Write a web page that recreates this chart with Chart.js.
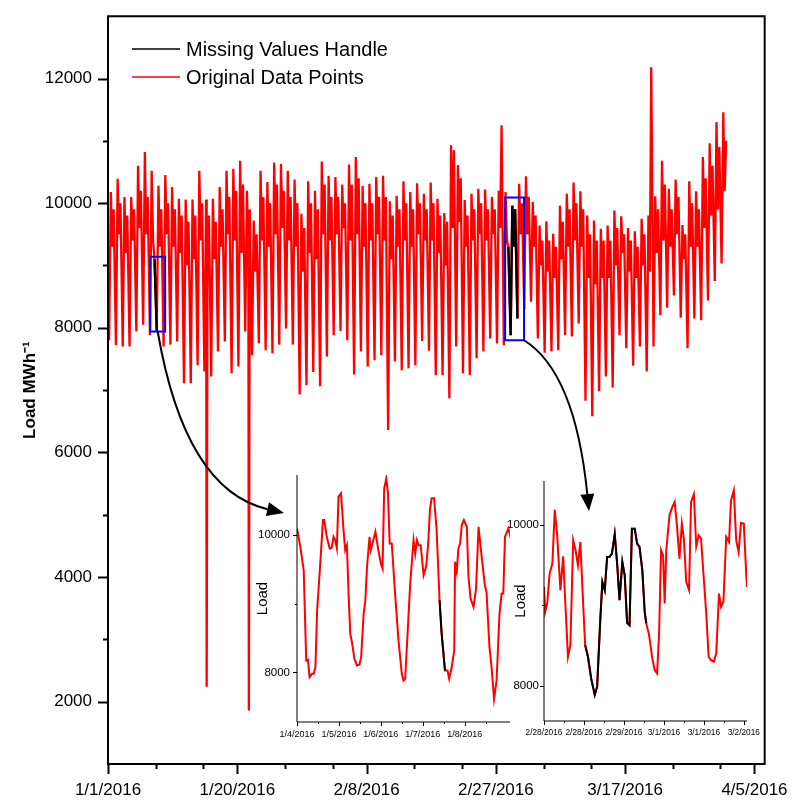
<!DOCTYPE html>
<html><head><meta charset="utf-8">
<script src="https://cdn.jsdelivr.net/npm/chart.js@4.4.1/dist/chart.umd.min.js"></script>
<style>
html,body{margin:0;padding:0;background:#fff;}
#wrap{position:relative;width:794px;height:801px;overflow:hidden;}
canvas{position:absolute;}
#main{left:0;top:0;width:794px;height:801px;}
#ins1{left:240px;top:465px;width:280px;height:285px;}
#ins2{left:500px;top:470px;width:270px;height:280px;}
</style></head><body>
<div id="wrap">
<canvas id="main" width="794" height="801"></canvas>
<canvas id="ins1" width="280" height="285"></canvas>
<canvas id="ins2" width="270" height="280"></canvas>
</div>
<script>
// ---------- main series: per-day readings (day 0 = 1/1/2016) ----------
const sampleHours = [4, 10, 15, 20];
const dayLows = [7800,7720,7700,7700,7940,8050,7880,7950,7700,7730,
 7780,7110,7110,7400,7300,7220,7620,7780,7270,7380,
 7940,7560,7750,7640,7590,7730,7990,7730,6930,7080,
 7290,7060,7540,7880,7950,7800,7250,7620,7380,7480,
 7560,6360,7460,7320,7350,7400,7790,7630,7240,7240,
 6870,7700,7270,7240,7510,7620,7830,7750,7720,7880,
 8150,8300,8420,7830,7600,7620,7640,7880,7860,8070,
 6830,6580,6980,7220,7040,7880,7670,7390,7700,7300,
 7700,8200,8320,8520,8160,7670,8150,8120,8440,8750,
 9030];
const dayPeaks = [10180,10390,10100,10100,10600,10820,10520,10280,10450,10260,
 10070,10060,10060,10520,10060,10070,10260,10520,10550,10680,
 10200,9720,10520,10340,10650,10630,10520,10380,9830,10350,
 10200,10670,10440,10420,10300,10620,10740,10280,10310,10420,
 10440,10030,10120,10350,10180,10320,10150,10330,10070,9840,
 10930,10610,10050,10150,10230,10220,10100,10200,10180,9960,
 10310,10430,10020,9640,9710,9510,9960,10150,10330,10190,
 9800,9720,9590,9640,9880,9790,9600,9550,9750,9800,
 10110,10680,10230,10380,9650,10350,10190,10740,10960,11300,
 11460];
const dayMids = [9300,9500,9200,9400,9600,9500,9400,9300,9500,9300,
 9200,9000,9100,9400,9200,9100,9300,9500,9400,9200,
 9300,8900,9400,9300,9500,9600,9400,9300,8900,9200,
 9100,9500,9400,9500,9600,9400,9500,9300,9400,9500,
 9400,9100,9300,9400,9300,9500,9400,9400,9200,9000,
 9600,9700,9300,9400,9500,9400,9500,9600,9400,9300,
 9500,9500,9300,9000,8900,8800,9100,9300,9400,9300,
 8800,8700,8800,8800,9000,9200,8900,8800,9000,8900,
 9200,9400,9300,9500,9100,9300,9300,9600,9800,9900,
 10200];
const dayPeaks2 = [9900,10000,9800,9900,10200,10100,9100,9900,10000,9900,
 9800,9700,9800,10000,9800,9700,9900,10100,10200,10300,
 9900,9500,10100,10000,10300,10200,10100,10000,9600,10000,
 9900,10300,10100,10100,10000,10300,10400,10000,10000,10100,
 10100,9800,9900,10000,9900,10000,9900,10000,9800,9700,
 10850,10400,9800,9900,10000,9900,9900,11250,9300,9900,
 10000,10100,9800,9400,9400,9300,9700,9900,10000,9900,
 9500,9400,9400,9400,9600,9500,9400,9300,9500,12180,
 9900,10300,9900,10100,9500,10000,9900,10400,10600,10900,
 11000];
const dropDays = [14.5, 20.7];
const dropValues = [2240, 1860];
const missingRanges = [[6.8, 7.2], [58.8, 60.2]];

const xTickDays = [0, 19, 38, 57, 76, 95];
const xTickLabels = ['1/1/2016','1/20/2016','2/8/2016','2/27/2016','3/17/2016','4/5/2016'];
const xMinorDays = [7, 14, 26, 33, 45, 52, 64, 71, 83, 90];
const yTickValues = [2000, 4000, 6000, 8000, 10000, 12000];
const yMinorValues = [3000, 5000, 7000, 9000, 11000];
const seriesLabels = ['Missing Values Handle', 'Original Data Points'];
const yAxisTitle = 'Load MWh\u207B\u00B9';
// highlighted windows (day range, load range)
const zoomBoxes = [[6.2, 8.4, 7940, 9140], [58.36, 61.14, 7800, 10090]];

// ---------- inset 1 ----------
const inset1Days = [0,0.08,0.16,0.22,0.26,0.30,0.36,0.40,0.44,0.48,0.56,0.62,0.65,0.71,0.78,0.83,0.87,0.91,0.95,0.99,
 1.05,1.11,1.15,1.19,1.23,1.27,1.31,1.37,1.43,1.49,1.53,1.59,1.63,1.67,1.73,1.76,1.81,1.87,1.94,2.00,
 2.04,2.08,2.13,2.17,2.21,2.26,2.34,2.42,2.50,2.54,2.58,2.62,2.70,2.74,2.78,2.82,2.86,2.90,2.95,3.02,
 3.08,3.13,3.17,3.21,3.27,3.33,3.40,3.45,3.53,3.59,3.63,3.69,3.75,3.77,3.81,3.85,3.89,3.93,3.98,4.05,
 4.09,4.14,4.21,4.27,4.33,4.40,4.48,4.52,4.59,4.64,4.70,4.76,4.83,4.88,4.92,4.96,5.04,5.10];
const inset1Load = [10093,9826,9486,8175,8185,7932,7981,7981,8078,8903,9632,10215,10215,9972,9802,9816,9972,9923,9802,10555,
 10603,10069,9778,9850,9146,8563,8442,8199,8102,8117,8223,8855,9049,9535,9972,9778,9899,10045,9778,9583,
 9511,10676,10822,10603,9875,9875,9146,8466,7981,7883,7908,8369,9292,9608,9923,9729,9923,9850,9850,9413,
 9535,9875,10360,10531,10531,10069,9049,8563,8029,8029,7908,8078,8321,9608,9462,9802,9875,10142,10215,10118,
 9389,9073,8952,9219,10118,9705,9268,9171,8369,8078,7616,7883,8855,9146,9146,9972,10093,9948];
const inset1Missing = [66, 68];
const inset1TickLabels = ['1/4/2016','1/5/2016','1/6/2016','1/7/2016','1/8/2016'];

// ---------- inset 2 ----------
const inset2Days = [0,0.03,0.08,0.14,0.21,0.27,0.33,0.41,0.48,0.53,0.60,0.66,0.73,0.79,0.85,0.91,0.96,1.03,1.10,1.18,
 1.27,1.33,1.41,1.46,1.52,1.58,1.64,1.70,1.77,1.83,1.89,1.96,2.02,2.08,2.14,2.20,2.27,2.33,2.39,2.46,
 2.52,2.56,2.63,2.71,2.77,2.83,2.88,2.93,2.98,3.02,3.06,3.14,3.21,3.27,3.33,3.39,3.45,3.50,3.56,3.63,
 3.68,3.75,3.81,3.87,3.93,3.99,4.06,4.12,4.18,4.25,4.31,4.38,4.43,4.49,4.56,4.63,4.68,4.75,4.81,4.87,
 4.93,5.00,5.06,5.08];
const inset2Load = [9232,8921,9025,9398,9523,10195,9875,9191,9614,9066,8361,8506,9813,9689,9502,9792,9232,8506,8361,8091,
 7884,7988,8838,9294,9191,9606,9606,9647,9888,9523,9066,9543,9377,8784,8755,9958,9958,9772,9730,9440,
 8921,8776,8631,8340,8195,8154,8651,9689,9626,9025,9689,10124,10228,10290,9979,9585,10020,9834,9294,9191,
 10290,10386,9738,9875,9834,9398,8900,8361,8319,8299,8402,9149,8983,9046,9855,9792,10311,10435,9813,9668,
 10029,10021,9398,9232];
const inset2Missing = [17, 41];
const inset2TickLabels = ['2/28/2016','2/28/2016','2/29/2016','3/1/2016','3/1/2016','3/2/2016'];
const insetYLabel = 'Load';

// ---------- build ----------
Chart.defaults.font.family = "'Liberation Sans', Arial, Helvetica, sans-serif";
Chart.defaults.color = '#000';

const mainPts = [];
for (let d = 0; d < dayLows.length; d++) {
  const v = [dayLows[d], dayPeaks[d], dayMids[d], dayPeaks2[d]];
  sampleHours.forEach((h, i) => mainPts.push({x: d + h / 24, y: v[i]}));
}
dropDays.forEach((t, i) => mainPts.push({x: t, y: dropValues[i]}));
mainPts.sort((a, b) => a.x - b.x);
const blackPts = [];
missingRanges.forEach(([a, b]) => {
  mainPts.filter(p => p.x >= a && p.x <= b).forEach(p => blackPts.push({x: p.x, y: p.y}));
  blackPts.push({x: b + 0.01, y: null});
});

const tickMarks = {
  id: 'tickMarks',
  afterDraw(chart, args, o) {
    const {ctx, chartArea: a, scales: {x, y}} = chart;
    ctx.save();
    ctx.strokeStyle = '#000';
    ctx.lineWidth = o.lineWidth;
    ctx.beginPath();
    if (o.box) {
      ctx.rect(a.left, a.top, a.right - a.left, a.bottom - a.top);
    } else {
      ctx.moveTo(a.left, a.top); ctx.lineTo(a.left, a.bottom); ctx.lineTo(a.right, a.bottom);
    }
    const xt = (vals, len) => vals.forEach(v => { const p = Math.round(x.getPixelForValue(v)) + 0.5; ctx.moveTo(p, a.bottom); ctx.lineTo(p, a.bottom + len); });
    const yt = (vals, len) => vals.forEach(v => { const p = Math.round(y.getPixelForValue(v)) + 0.5; ctx.moveTo(a.left, p); ctx.lineTo(a.left - len, p); });
    xt(o.xMajor, o.majorLen); xt(o.xMinor, o.minorLen);
    yt(o.yMajor, o.majorLen); yt(o.yMinor, o.minorLen);
    ctx.stroke();
    ctx.restore();
  }
};

const mainDeco = {
  id: 'mainDeco',
  afterDraw(chart) {
    const {ctx, scales: {x, y}} = chart;
    ctx.save();
    // highlight boxes
    ctx.strokeStyle = '#0000ff'; ctx.lineWidth = 2;
    const boxes = zoomBoxes.map(([d0, d1, v0, v1]) => {
      const l = x.getPixelForValue(d0), r = x.getPixelForValue(d1);
      const t = y.getPixelForValue(v1), b = y.getPixelForValue(v0);
      ctx.strokeRect(l, t, r - l, b - t);
      return {l, r, t, b};
    });
    // curved arrows to the insets
    const arrow = (sx, sy, cx, cy, ex, ey) => {
      ctx.strokeStyle = '#000'; ctx.fillStyle = '#000'; ctx.lineWidth = 2;
      const ang = Math.atan2(ey - cy, ex - cx);
      const hl = 17, hw = 7;
      const bx = ex - hl * Math.cos(ang), by = ey - hl * Math.sin(ang);
      ctx.beginPath(); ctx.moveTo(sx, sy); ctx.quadraticCurveTo(cx, cy, bx, by); ctx.stroke();
      ctx.beginPath(); ctx.moveTo(ex, ey);
      ctx.lineTo(bx + hw * Math.sin(ang), by - hw * Math.cos(ang));
      ctx.lineTo(bx - hw * Math.sin(ang), by + hw * Math.cos(ang));
      ctx.closePath(); ctx.fill();
    };
    const b1 = boxes[0], b2 = boxes[1];
    arrow((b1.l + b1.r) / 2, b1.b, 185, 490, 284, 513);
    arrow(b2.r, b2.b, 575, 372, 589, 511);
    // legend
    ctx.font = "20px 'Liberation Sans', Arial, sans-serif";
    ctx.textBaseline = 'middle';
    chart.data.datasets.forEach((ds, i) => {
      const yy = 49 + i * 28;
      ctx.strokeStyle = ds.borderColor; ctx.lineWidth = 1.5;
      ctx.beginPath(); ctx.moveTo(132, yy); ctx.lineTo(180, yy); ctx.stroke();
      ctx.fillStyle = '#000';
      ctx.fillText(ds.label, 186, yy + 1);
    });
    ctx.restore();
  }
};

new Chart(document.getElementById('main'), {
  type: 'line',
  data: {datasets: [
    {label: seriesLabels[0], data: blackPts, borderColor: '#000000', borderWidth: 2.4, pointRadius: 0, spanGaps: false},
    {label: seriesLabels[1], data: mainPts, borderColor: '#ff0000', borderWidth: 2.3, pointRadius: 0}
  ]},
  options: {
    responsive: false, animation: false, devicePixelRatio: 1,
    layout: {padding: {left: 0, right: 28, top: 14, bottom: 0}},
    elements: {line: {tension: 0}},
    plugins: {
      legend: {display: false}, tooltip: {enabled: false},
      tickMarks: {box: true, lineWidth: 2, majorLen: 10, minorLen: 5, xMajor: xTickDays, xMinor: xMinorDays, yMajor: yTickValues, yMinor: yMinorValues}
    },
    scales: {
      x: {type: 'linear', min: 0, max: 96.5,
        grid: {display: false, drawTicks: true, tickLength: 10}, border: {display: false},
        afterBuildTicks: s => { s.ticks = xTickDays.map(v => ({value: v})); },
        ticks: {autoSkip: false, maxRotation: 0, padding: 6, font: {size: 17},
          callback: v => { const i = xTickDays.indexOf(v); return i >= 0 ? xTickLabels[i] : ''; }},
        afterFit: s => { s.height = 37; }},
      y: {type: 'linear', min: 1000, max: 13000,
        grid: {display: false, drawTicks: true, tickLength: 10}, border: {display: false},
        afterBuildTicks: s => { s.ticks = yTickValues.map(v => ({value: v})); },
        ticks: {padding: 6, font: {size: 17}, callback: v => String(v)},
        title: {display: true, text: yAxisTitle, font: {size: 17, weight: 'bold'}, padding: {top: 20, bottom: 0}},
        afterFit: s => { s.width = 108; }}
    }
  },
  plugins: [tickMarks, mainDeco]
});

function makeInset(id, days, load, miss, labels, yMin, yMax, xMax, g) {
  const red = days.map((d, i) => ({x: d, y: load[i]}));
  const blk = days.map((d, i) => ({x: d, y: (i >= miss[0] && i <= miss[1]) ? load[i] : null}));
  const majors = labels.map((_, i) => i);
  const minors = labels.map((_, i) => i + 0.5).filter(v => v < xMax);
  new Chart(document.getElementById(id), {
    type: 'line',
    data: {datasets: [
      {label: seriesLabels[0], data: blk, borderColor: '#000000', borderWidth: 2, pointRadius: 0, spanGaps: false},
      {label: seriesLabels[1], data: red, borderColor: '#ff0000', borderWidth: 2, pointRadius: 0}
    ]},
    options: {
      responsive: false, animation: false, devicePixelRatio: 1,
      layout: {padding: {left: 0, right: g.padRight, top: g.padTop, bottom: 0}},
      elements: {line: {tension: 0}},
      plugins: {legend: {display: false}, tooltip: {enabled: false},
        tickMarks: {box: false, lineWidth: 1, majorLen: 4, minorLen: 2, xMajor: majors, xMinor: minors, yMajor: [8000, 10000], yMinor: [9000]}},
      scales: {
        x: {type: 'linear', min: 0, max: xMax,
          grid: {display: false, drawTicks: true, tickLength: 4}, border: {display: false},
          afterBuildTicks: s => { s.ticks = majors.map(v => ({value: v})); },
          ticks: {autoSkip: false, maxRotation: 0, padding: 3, font: {size: g.xFont}, callback: v => labels[v] ?? ''},
          afterFit: s => { s.height = g.xHeight; }},
        y: {type: 'linear', min: yMin, max: yMax,
          grid: {display: false, drawTicks: true, tickLength: 4}, border: {display: false},
          afterBuildTicks: s => { s.ticks = [8000, 10000].map(v => ({value: v})); },
          ticks: {padding: g.yPad, font: {size: 11.5}, callback: v => String(v)},
          title: {display: true, text: insetYLabel, font: {size: 15}, padding: {top: g.titlePad, bottom: 0}},
          afterFit: s => { s.width = g.yWidth; }}
      }
    },
    plugins: [tickMarks]
  });
}
makeInset('ins1', inset1Days, inset1Load, inset1Missing, inset1TickLabels, 7280, 10870, 5.08,
  {padRight: 10, padTop: 10, xHeight: 28, yWidth: 57, yPad: 3, titlePad: 14, xFont: 9});
makeInset('ins2', inset2Days, inset2Load, inset2Missing, inset2TickLabels, 7560, 10552, 5.08,
  {padRight: 23, padTop: 11, xHeight: 29, yWidth: 44, yPad: 1, titlePad: 12, xFont: 8.3});
</script>
</body></html>
